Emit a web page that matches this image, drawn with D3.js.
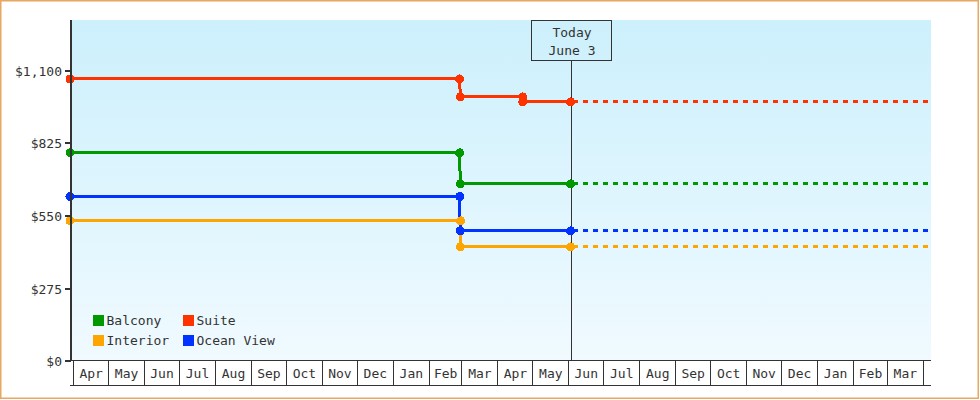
<!DOCTYPE html>
<html><head><meta charset="utf-8">
<script src="https://cdn.jsdelivr.net/npm/d3@7"></script>
<style>
body{margin:0;background:#fff}
svg{display:block}
text{font-family:"DejaVu Sans Mono",monospace;font-size:13px;fill:#333}
</style>
</head><body>
<svg id="c" width="980" height="400"></svg>
<script>
// ---- data ----
const seriesNames  = ["Balcony", "Suite", "Interior", "Ocean View"];
const seriesColors = ["#009900", "#ff3300", "#ffa500", "#0033ff"];

const balconyDates   = ["2018-03-29T06:00","2019-02-27T12:00","2019-02-28T00:00","2019-06-03T00:00"];
const balconyValues  = [786, 786, 668, 668];
const suiteDates     = ["2018-03-29T06:00","2019-02-27T12:00","2019-02-28T00:00","2019-04-22T18:00","2019-04-22T20:00","2019-06-03T00:00"];
const suiteValues    = [1066, 1066, 998, 998, 979, 979];
const interiorDates  = ["2018-03-29T06:00","2019-02-28T08:00","2019-02-28T00:00","2019-06-03T00:00"];
const interiorValues = [528, 528, 429, 429];
const oceanDates     = ["2018-03-29T06:00","2019-02-27T12:00","2019-02-28T00:00","2019-06-03T00:00"];
const oceanValues    = [620, 620, 490, 490];

const yTickValues = [0, 275, 550, 825, 1100];
const todayDate   = "2019-06-03T00:00";
const todayLabel  = ["Today", "June 3"];
const xStart = "2018-03-29T06:00", xEnd = "2020-04-08T00:00";

// ---- setup ----
const parse = d3.timeParse("%Y-%m-%dT%H:%M");
const svg = d3.select("#c");
const L = 70, R = 931, T = 20, B = 360;
const x = d3.scaleTime().domain([parse(xStart), parse(xEnd)]).range([L, R]);
const y = d3.scaleLinear().domain([0, 1100 * (B - T) / 290]).range([B, T]);
const fmt = v => "$" + d3.format(",")(v);

const series = [
  {dates: balconyDates, values: balconyValues},
  {dates: suiteDates, values: suiteValues},
  {dates: interiorDates, values: interiorValues},
  {dates: oceanDates, values: oceanValues}
].map((s, i) => ({
  name: seriesNames[i], color: seriesColors[i],
  pts: s.dates.map((d, j) => ({date: parse(d), value: s.values[j]}))
}));

// outer border
svg.append("rect").attr("x", 0.75).attr("y", 0.75).attr("width", 977.5).attr("height", 397.5)
  .attr("fill", "#fff").attr("stroke", "#e8a860").attr("stroke-width", 1.5);

// background gradient
const defs = svg.append("defs");
const g = defs.append("linearGradient").attr("id", "bg").attr("x1", 0).attr("y1", 0).attr("x2", 0).attr("y2", 1);
g.append("stop").attr("offset", "0%").attr("stop-color", "#ccf0fc");
g.append("stop").attr("offset", "100%").attr("stop-color", "#f0faff");
svg.append("rect").attr("x", L + 1).attr("y", T).attr("width", R - L - 1).attr("height", B - T).attr("fill", "url(#bg)");

// x-axis month boxes
const ax = svg.append("g").attr("shape-rendering", "crispEdges");
ax.append("line").attr("x1", L).attr("x2", R).attr("y1", B + 0.5).attr("y2", B + 0.5).attr("stroke", "#333");
ax.append("line").attr("x1", L).attr("x2", R).attr("y1", 385.5).attr("y2", 385.5).attr("stroke", "#333");
const months = d3.timeMonth.range(d3.timeMonth.ceil(x.domain()[0]), x.domain()[1]);
months.forEach(m => {
  const px = Math.round(x(m)) + 0.5;
  ax.append("line").attr("x1", px).attr("x2", px).attr("y1", B).attr("y2", 385).attr("stroke", "#333");
  const next = d3.timeMonth.offset(m, 1);
  if (next <= x.domain()[1]) {
    ax.append("text").attr("x", (x(m) + x(next)) / 2 + 0.5).attr("y", 378)
      .attr("text-anchor", "middle").text(d3.timeFormat("%b")(m));
  }
});

// lines
const line = d3.line().x(d => x(d.date)).y(d => y(d.value));
const today = parse(todayDate);
const marks = svg.append("g").attr("shape-rendering", "crispEdges");
series.forEach(s => {
  marks.append("path").datum(s.pts).attr("d", line).attr("fill", "none")
    .attr("stroke", s.color).attr("stroke-width", 3);
  const last = s.pts[s.pts.length - 1];
  marks.append("path").datum([last, {date: x.domain()[1], value: last.value}]).attr("d", line)
    .attr("fill", "none").attr("stroke", s.color).attr("stroke-width", 3)
    .attr("stroke-dasharray", "5,5").attr("stroke-dashoffset", -2);
});

// today marker
const tx = Math.round(x(today)) + 0.5;
svg.append("line").attr("x1", tx).attr("x2", tx).attr("y1", 60.5).attr("y2", B)
  .attr("stroke", "#333").attr("shape-rendering", "crispEdges");
svg.append("rect").attr("x", tx - 40).attr("y", 20.5).attr("width", 80).attr("height", 40)
  .attr("fill", "none").attr("stroke", "#333").attr("shape-rendering", "crispEdges");
todayLabel.forEach((t, i) => svg.append("text").attr("x", tx + 0.5).attr("y", 37 + i * 17.5)
  .attr("text-anchor", "middle").text(t));

// dots
const dots = svg.append("g").attr("shape-rendering", "crispEdges");
series.forEach(s => {
  dots.selectAll(null).data(s.pts).enter().append("circle")
    .attr("cx", d => x(d.date)).attr("cy", d => y(d.value)).attr("r", 4.5).attr("fill", s.color);
});

// legend
const legPos = [[93, 315], [183, 315], [93, 335], [183, 335]];
series.forEach((s, i) => {
  const [lx, ly] = legPos[i];
  svg.append("rect").attr("x", lx).attr("y", ly).attr("width", 11).attr("height", 11)
    .attr("fill", s.color).attr("shape-rendering", "crispEdges");
  svg.append("text").attr("x", lx + 13.5).attr("y", ly + 10).text(s.name);
});

// y axis
const ya = svg.append("g").attr("shape-rendering", "crispEdges");
ya.append("line").attr("x1", 71).attr("x2", 71).attr("y1", T).attr("y2", B + 1).attr("stroke", "#333").attr("stroke-width", 2);
yTickValues.forEach(v => {
  const py = Math.round(y(v)) + 1;
  ya.append("line").attr("x1", 65).attr("x2", 71).attr("y1", py).attr("y2", py).attr("stroke", "#333").attr("stroke-width", 2);
  ya.append("text").attr("x", 62).attr("y", py + 4.5).attr("text-anchor", "end").text(fmt(v));
});
</script>
</body></html>
